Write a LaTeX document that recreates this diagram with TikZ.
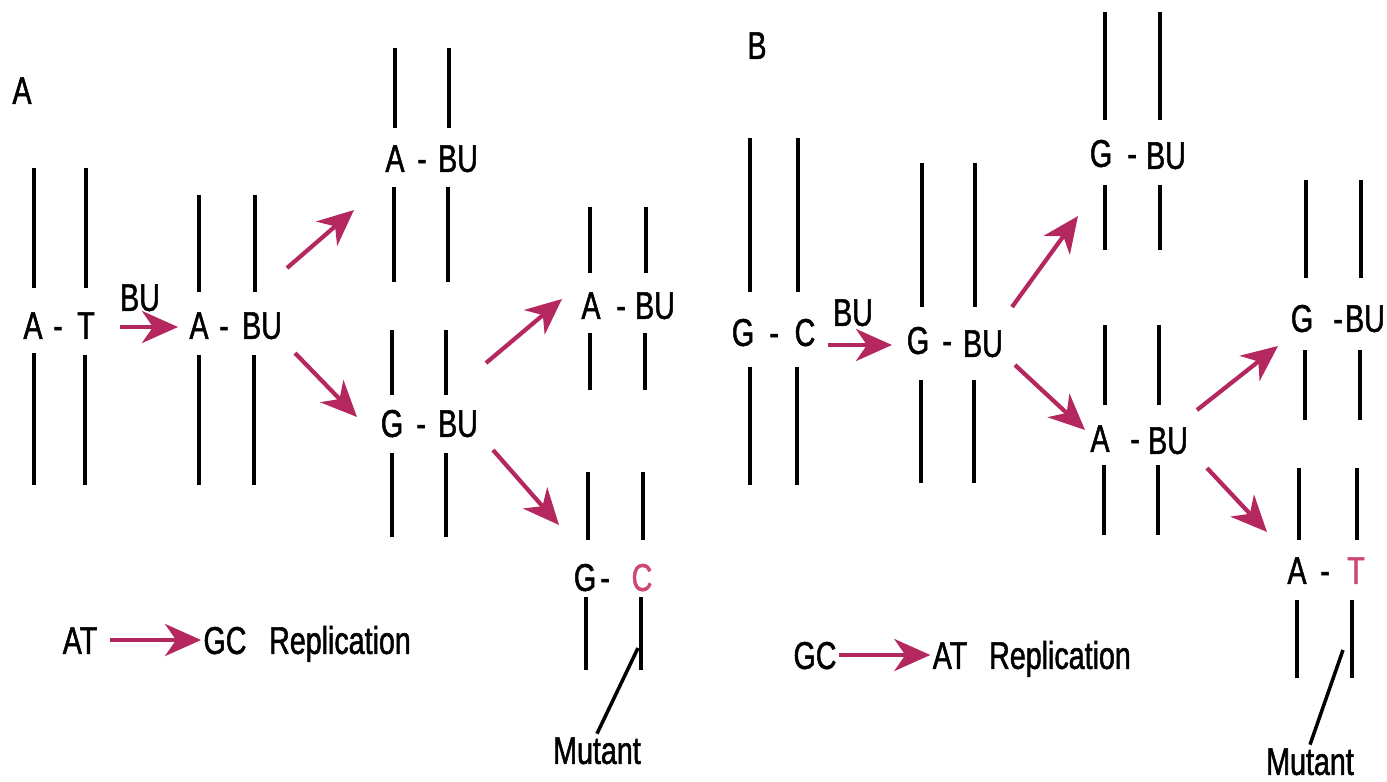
\documentclass[tikz,border=0pt]{standalone}
\usepackage{fontspec}
\setmainfont{Liberation Sans}[FakeStretch=0.74, FakeBold=1.3]
\usetikzlibrary{arrows.meta}
\definecolor{arrowred}{RGB}{180,40,95}
\definecolor{mutpink}{RGB}{205,70,120}
\tikzset{
  base/.style={inner sep=0.5pt, text height=7.9pt, text depth=0pt,
               font=\fontsize{11}{13}\selectfont},
  strand/.style={line width=1.1pt, black},
  redarrow/.style={arrowred, line width=1.2pt,
                -{Stealth[length=3.6mm,width=3.2mm,inset=1.1mm]}},
  mutline/.style={line width=1pt, black}
}
\newcommand{\strandline}[3]{\draw[strand] (#1,#2) -- (#1,#3);}
\begin{document}
\begin{tikzpicture}[x=0.01cm, y=-0.01cm]
\useasboundingbox (0,0) rectangle (1387,781);

% ---------------- Panel A ----------------
\node[base] (labA) at (22,90) {A};

% A-T
\strandline{34}{168}{288} \strandline{86}{168}{288}
\strandline{34}{353}{485} \strandline{85}{355}{485}
\node[base] (a1L) at (33,325) {A};
\node[base] (a1d) at (58,325) {-};
\node[base] (a1R) at (86,325) {T};

\node[base] (buA) at (140,297) {BU};
\coordinate (sA0) at (120,327);
\coordinate (eA0) at (178,327);
\draw[redarrow] (sA0) -- (eA0);

% A-BU
\strandline{199}{195}{292} \strandline{255}{195}{292}
\strandline{199}{355}{485} \strandline{254}{355}{485}
\node[base] (a2L) at (199,325) {A};
\node[base] (a2d) at (224,325) {-};
\node[base] (a2R) at (262,325) {BU};

\coordinate (sA1) at (287,268);
\coordinate (eA1) at (354,210);
\coordinate (sA2) at (295,353);
\coordinate (eA2) at (357,417);
\draw[redarrow] (sA1) -- (eA1);
\draw[redarrow] (sA2) -- (eA2);

% upper A-BU
\strandline{395}{48}{128} \strandline{449}{48}{128}
\strandline{394}{187}{282} \strandline{448}{187}{282}
\node[base] (a3L) at (395,158) {A};
\node[base] (a3d) at (422,158) {-};
\node[base] (a3R) at (458,158) {BU};

% G-BU
\strandline{392}{330}{395} \strandline{446}{330}{395}
\strandline{392}{453}{537} \strandline{446}{453}{537}
\node[base] (a4L) at (392,423) {G};
\node[base] (a4d) at (421,423) {-};
\node[base] (a4R) at (458,423) {BU};

\coordinate (sA3) at (486,363);
\coordinate (eA3) at (562,299);
\coordinate (sA4) at (493,450);
\coordinate (eA4) at (559,525);
\draw[redarrow] (sA3) -- (eA3);
\draw[redarrow] (sA4) -- (eA4);

% right A-BU
\strandline{590}{207}{273} \strandline{646}{207}{273}
\strandline{590}{333}{390} \strandline{645}{333}{390}
\node[base] (a5L) at (591,305) {A};
\node[base] (a5d) at (621,305) {-};
\node[base] (a5R) at (655,305) {BU};

% G-C mutant
\strandline{588}{472}{540} \strandline{643}{472}{540}
\strandline{586}{597}{670} \strandline{641}{597}{670}
\node[base] (a6L) at (585,577) {G};
\node[base] (a6d) at (605,577) {-};
\node[base, text=mutpink] (a6R) at (642,577) {C};

\coordinate (mA) at (638,648);
\node[base] (mutA) at (597,750) {Mutant};
\draw[mutline] (mA) -- (mutA.north);

% legend A
\node[base] (ltA1) at (80,640) {AT};
\node[base] (ltA2) at (225,640) {GC};
\node[base] (ltA3) at (340,640) {Replication};
\coordinate (lsA) at (110,640);
\draw[redarrow] (lsA) -- (ltA2.west);

% ---------------- Panel B ----------------
\node[base] (labB) at (757,45) {B};

% G-C
\strandline{750}{138}{292} \strandline{798}{138}{292}
\strandline{750}{367}{485} \strandline{797}{367}{485}
\node[base] (b1L) at (743,332) {G};
\node[base] (b1d) at (774,332) {-};
\node[base] (b1R) at (805,332) {C};

\node[base] (buB) at (853,312) {BU};
\coordinate (sB0) at (828,345);
\coordinate (eB0) at (892,345);
\draw[redarrow] (sB0) -- (eB0);

% G-BU
\strandline{922}{163}{307} \strandline{975}{163}{307}
\strandline{921}{380}{483} \strandline{974}{380}{483}
\node[base] (b2L) at (918,340) {G};
\node[base] (b2d) at (947,340) {-};
\node[base] (b2R) at (983,343) {BU};

\coordinate (sB1) at (1012,307);
\coordinate (eB1) at (1078,216);
\coordinate (sB2) at (1015,365);
\coordinate (eB2) at (1085,430);
\draw[redarrow] (sB1) -- (eB1);
\draw[redarrow] (sB2) -- (eB2);

% upper G-BU
\strandline{1105}{12}{120} \strandline{1160}{12}{120}
\strandline{1105}{185}{250} \strandline{1160}{185}{250}
\node[base] (b3L) at (1101,153) {G};
\node[base] (b3d) at (1132,153) {-};
\node[base] (b3R) at (1166,155) {BU};

% A-BU
\strandline{1105}{325}{405} \strandline{1159}{325}{405}
\strandline{1104}{465}{535} \strandline{1158}{465}{535}
\node[base] (b4L) at (1100,438) {A};
\node[base] (b4d) at (1135,438) {-};
\node[base] (b4R) at (1168,440) {BU};

\coordinate (sB3) at (1197,410);
\coordinate (eB3) at (1278,346);
\coordinate (sB4) at (1207,468);
\coordinate (eB4) at (1267,532);
\draw[redarrow] (sB3) -- (eB3);
\draw[redarrow] (sB4) -- (eB4);

% right G-BU
\strandline{1306}{180}{278} \strandline{1361}{180}{278}
\strandline{1305}{350}{420} \strandline{1360}{350}{420}
\node[base] (b5L) at (1302,318) {G};
\node[base] (b5d) at (1338,318) {-};
\node[base] (b5R) at (1365,318) {BU};

% A-T mutant
\strandline{1299}{468}{540} \strandline{1357}{468}{540}
\strandline{1297}{600}{678} \strandline{1352}{600}{678}
\node[base] (b6L) at (1297,570) {A};
\node[base] (b6d) at (1325,570) {-};
\node[base, text=mutpink] (b6R) at (1356,570) {T};

\coordinate (mB) at (1343,650);
\node[base] (mutB) at (1310,761) {Mutant};
\draw[mutline] (mB) -- (mutB.north);

% legend B
\node[base] (ltB1) at (815,655) {GC};
\node[base] (ltB2) at (950,655) {AT};
\node[base] (ltB3) at (1060,655) {Replication};
\draw[redarrow] (ltB1.east) -- (ltB2.west);
\end{tikzpicture}
\end{document}
